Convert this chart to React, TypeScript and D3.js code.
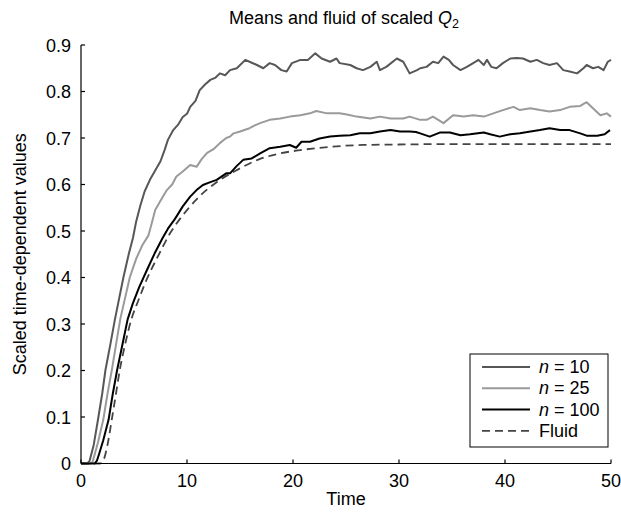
import React from "react";
import * as d3 from "d3";

// values: [time, scaled value]
const n10: [number, number][] = [
  [0, 0], [0.6, 0], [0.8, 0.005], [1.2, 0.04], [1.6, 0.094], [2.0, 0.15], [2.3, 0.2], [2.8, 0.26],
  [3.2, 0.31], [3.6, 0.355], [4.0, 0.4], [4.5, 0.45], [4.9, 0.485], [5.2, 0.52], [5.6, 0.555],
  [6.0, 0.585], [6.5, 0.61], [7.0, 0.63], [7.5, 0.65], [7.9, 0.675], [8.2, 0.696], [8.7, 0.717],
  [9.2, 0.73], [9.6, 0.745], [10.0, 0.752], [10.3, 0.767], [10.8, 0.78], [11.2, 0.803],
  [11.7, 0.815], [12.2, 0.825], [12.7, 0.83], [13.1, 0.839], [13.6, 0.835], [14.06, 0.846],
  [14.7, 0.85], [15.5, 0.868], [15.9, 0.864], [16.6, 0.857], [17.2, 0.85], [17.8, 0.861],
  [18.3, 0.857], [18.9, 0.846], [19.4, 0.843], [19.9, 0.861], [20.7, 0.868], [21.4, 0.868],
  [22.1, 0.882], [22.7, 0.871], [23.5, 0.864], [24.1, 0.871], [24.4, 0.861], [25.4, 0.857],
  [26.0, 0.85], [26.6, 0.846], [27.3, 0.853], [27.9, 0.864], [28.2, 0.846], [28.8, 0.853],
  [29.8, 0.871], [30.4, 0.864], [31.0, 0.839], [31.7, 0.846], [32.0, 0.85], [32.6, 0.853],
  [33.2, 0.864], [33.7, 0.861], [34.2, 0.875], [34.7, 0.868], [35.1, 0.857], [35.8, 0.846],
  [36.4, 0.853], [37.0, 0.861], [37.5, 0.868], [38.0, 0.857], [38.3, 0.868], [38.7, 0.853],
  [39.2, 0.85], [39.8, 0.861], [40.5, 0.871], [41.1, 0.872], [41.7, 0.871], [42.4, 0.864],
  [43.0, 0.868], [43.6, 0.861], [44.2, 0.857], [44.9, 0.861], [45.5, 0.846], [46.1, 0.843],
  [46.8, 0.839], [47.4, 0.85], [47.7, 0.857], [48.3, 0.85], [48.8, 0.853], [49.3, 0.846],
  [49.7, 0.864], [50.0, 0.868],
];

const n25: [number, number][] = [
  [0, 0], [0.9, 0], [1.1, 0.004], [1.6, 0.045], [2.1, 0.094], [2.5, 0.15], [2.9, 0.2], [3.3, 0.255],
  [3.7, 0.31], [4.2, 0.36], [4.6, 0.4], [5.2, 0.44], [5.8, 0.47], [6.35, 0.49], [6.6, 0.51],
  [7.0, 0.545], [7.5, 0.565], [8.1, 0.588], [8.6, 0.6], [9.0, 0.617], [9.6, 0.628], [10.3, 0.642],
  [10.9, 0.638], [11.4, 0.655], [11.9, 0.668], [12.5, 0.676], [13.1, 0.689], [13.7, 0.7],
  [14.06, 0.703], [14.4, 0.71], [15.0, 0.714], [15.9, 0.721], [16.4, 0.727], [16.9, 0.732],
  [17.8, 0.739], [18.8, 0.742], [19.7, 0.746], [20.7, 0.749], [21.6, 0.753], [22.2, 0.758],
  [23.2, 0.753], [24.4, 0.753], [25.2, 0.75], [26.0, 0.746], [27.3, 0.742], [28.2, 0.746],
  [29.2, 0.742], [30.4, 0.742], [31.0, 0.746], [32.0, 0.739], [32.6, 0.739], [33.2, 0.746],
  [34.2, 0.732], [35.1, 0.749], [36.1, 0.746], [37.0, 0.749], [38.0, 0.746], [38.9, 0.753],
  [39.8, 0.76], [40.8, 0.767], [41.4, 0.76], [42.4, 0.764], [43.3, 0.76], [44.2, 0.757],
  [45.2, 0.76], [46.1, 0.767], [47.1, 0.769], [47.7, 0.777], [48.3, 0.764], [49.0, 0.749],
  [49.6, 0.753], [50.0, 0.746],
];

const n100: [number, number][] = [
  [0, 0], [1.3, 0], [1.5, 0.006], [1.7, 0.02], [2.1, 0.05], [2.6, 0.094], [3.0, 0.15], [3.4, 0.2],
  [3.9, 0.255], [4.4, 0.31], [4.9, 0.345], [5.5, 0.38], [6.2, 0.415], [6.95, 0.452], [7.7, 0.485],
  [8.2, 0.505], [8.8, 0.524], [9.0, 0.531], [9.6, 0.553], [10.3, 0.574], [10.9, 0.588],
  [11.5, 0.599], [12.2, 0.605], [12.8, 0.61], [13.7, 0.624], [14.06, 0.624], [14.7, 0.64],
  [15.3, 0.653], [16.1, 0.656], [16.9, 0.667], [17.8, 0.678], [18.8, 0.681], [19.7, 0.685],
  [20.3, 0.679], [20.8, 0.692], [21.6, 0.692], [22.5, 0.699], [23.5, 0.703], [24.4, 0.705],
  [25.4, 0.706], [26.3, 0.71], [27.3, 0.71], [28.2, 0.714], [29.2, 0.717], [30.1, 0.714],
  [31.0, 0.714], [31.6, 0.713], [32.0, 0.71], [32.9, 0.703], [33.9, 0.712], [34.8, 0.712],
  [35.8, 0.706], [36.7, 0.708], [38.0, 0.712], [38.6, 0.708], [39.5, 0.703], [40.5, 0.708],
  [41.4, 0.71], [42.4, 0.714], [43.3, 0.717], [44.2, 0.721], [45.2, 0.717], [46.1, 0.717],
  [47.1, 0.71], [47.7, 0.705], [48.7, 0.705], [49.4, 0.708], [49.9, 0.717],
];

const fluid: [number, number][] = [
  [0, 0], [1.8, 0], [2.0, 0.002], [2.5, 0.04], [2.9, 0.094], [3.3, 0.15], [3.65, 0.2], [4.2, 0.26],
  [4.75, 0.31], [5.4, 0.35], [6.0, 0.385], [7.4, 0.452], [8.4, 0.495], [9.3, 0.525], [10.0, 0.545],
  [11.2, 0.575], [12.8, 0.605], [14.7, 0.631], [16.9, 0.655], [18.8, 0.667], [20.7, 0.674],
  [23.5, 0.681], [26.6, 0.685], [30, 0.686], [35, 0.687], [40, 0.687], [50, 0.687],
];

const xTicks = [0, 10, 20, 30, 40, 50];
const yTicks = [0, 0.1, 0.2, 0.3, 0.4, 0.5, 0.6, 0.7, 0.8, 0.9];

const series = [
  { name: "10", data: n10, color: "#575757" },
  { name: "25", data: n25, color: "#9a9a9a" },
  { name: "100", data: n100, color: "#000000" },
];

const legendRows = [
  { label: "10", color: "#575757", dash: "" },
  { label: "25", color: "#9a9a9a", dash: "" },
  { label: "100", color: "#000000", dash: "" },
  { label: "Fluid", color: "#444444", dash: "8,5" },
];

export default function App() {
  const width = 621;
  const height = 512;
  const left = 81;
  const right = 611;
  const top = 45;
  const bottom = 463.5;
  const font = "Liberation Sans, Arial, sans-serif";
  const fs = 18;

  const x = d3.scaleLinear().domain([0, 50]).range([left, right]);
  const y = d3.scaleLinear().domain([0, 0.9]).range([bottom, top]);

  const line = d3.line<[number, number]>().x((d) => x(d[0])).y((d) => y(d[1]));
  const smooth = d3
    .line<[number, number]>()
    .x((d) => x(d[0]))
    .y((d) => y(d[1]))
    .curve(d3.curveMonotoneX);

  const legX = 470;
  const legY = 354;
  const rowH = 21.3;

  return (
    <svg
      width={width}
      height={height}
      style={{ position: "absolute", left: 0, top: 0, background: "#fff" }}
      fontFamily={font}
    >
      <text x={344} y={24} textAnchor="middle" fontSize={18}>
        Means and fluid of scaled <tspan fontStyle="italic">Q</tspan>
        <tspan fontSize={12.5} dy={4}>2</tspan>
      </text>

      {/* data */}
      <path d={smooth(fluid) ?? ""} fill="none" stroke="#444" strokeWidth={1.8} strokeDasharray="8,5" />
      {series.map((s) => (
        <path key={s.name} d={line(s.data) ?? ""} fill="none" stroke={s.color} strokeWidth={2} strokeLinejoin="round" />
      ))}

      {/* axes */}
      <line x1={left} x2={left} y1={top} y2={bottom} stroke="#000" strokeWidth={1.2} />
      <line x1={left} x2={right} y1={bottom} y2={bottom} stroke="#000" strokeWidth={1.2} />
      {yTicks.map((t) => (
        <g key={t}>
          <line x1={left} x2={left + 4} y1={y(t)} y2={y(t)} stroke="#000" strokeWidth={1.2} />
          <text x={71} y={y(t) + 6.5} textAnchor="end" fontSize={fs}>
            {t === 0 ? "0" : t.toFixed(1)}
          </text>
        </g>
      ))}
      {xTicks.map((t) => (
        <g key={t}>
          <line x1={x(t)} x2={x(t)} y1={bottom} y2={bottom - 4} stroke="#000" strokeWidth={1.2} />
          <text x={x(t)} y={487} textAnchor="middle" fontSize={fs}>
            {t}
          </text>
        </g>
      ))}
      <text x={346} y={505} textAnchor="middle" fontSize={fs}>
        Time
      </text>
      <text
        transform={`translate(26, ${(top + bottom) / 2}) rotate(-90)`}
        textAnchor="middle"
        fontSize={fs}
      >
        Scaled time-dependent values
      </text>

      {/* legend */}
      <rect x={legX} y={legY} width={138} height={93} fill="#fff" stroke="#000" strokeWidth={1} />
      {legendRows.map((r, i) => {
        const ry = legY + 13 + i * rowH;
        return (
          <g key={r.label}>
            <line
              x1={482}
              x2={530}
              y1={ry}
              y2={ry}
              stroke={r.color}
              strokeWidth={r.dash ? 1.8 : 2}
              strokeDasharray={r.dash || undefined}
            />
            <text x={539} y={ry + 6} fontSize={fs}>
              {r.label === "Fluid" ? (
                "Fluid"
              ) : (
                <>
                  <tspan fontStyle="italic">n</tspan> = {r.label}
                </>
              )}
            </text>
          </g>
        );
      })}
    </svg>
  );
}
